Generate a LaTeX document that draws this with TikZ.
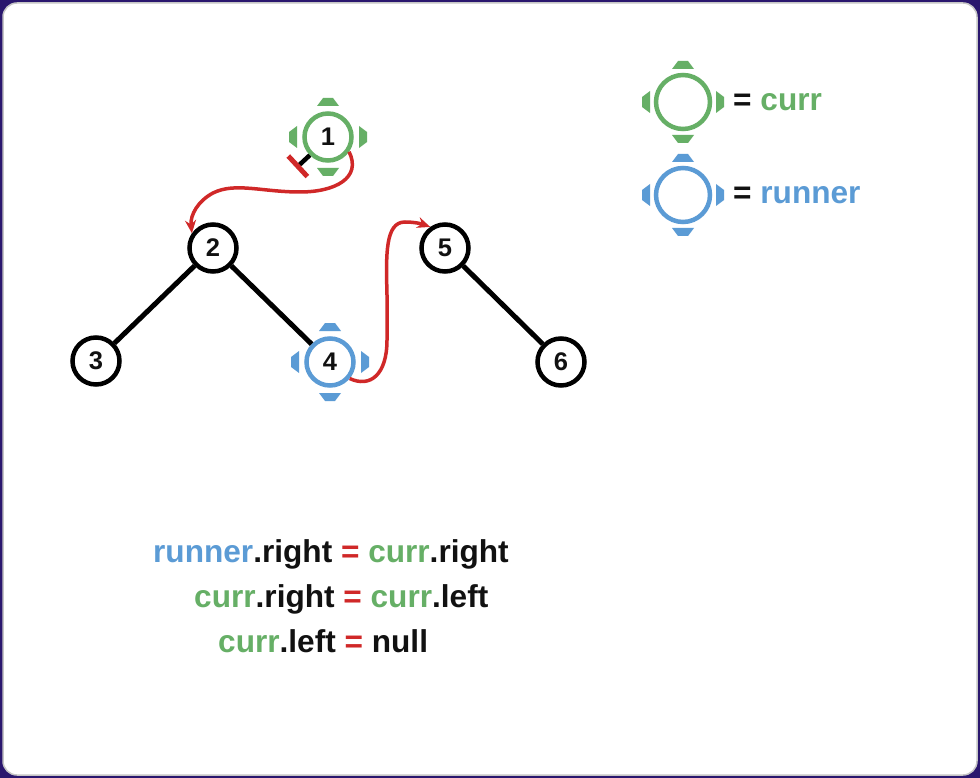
\documentclass[tikz,border=0pt]{standalone}
\usepackage{fontspec}
\setmainfont{Liberation Sans}
\usetikzlibrary{positioning,arrows.meta}
\definecolor{FrameViolet}{HTML}{2A176E}
\definecolor{CurrGreen}{HTML}{66AF66}
\definecolor{RunnerBlue}{HTML}{5B9BD5}
\definecolor{LinkRed}{HTML}{D02828}
\definecolor{InkBlack}{HTML}{111111}
\tikzset{
  treenode/.style={circle, draw=black, line width=4.5pt, fill=white, minimum size=47pt,
                   inner sep=0pt, text=InkBlack, font=\fontsize{25.5}{30}\selectfont\bfseries},
  currnode/.style={treenode, draw=CurrGreen},
  runnernode/.style={treenode, draw=RunnerBlue},
  keynode/.style={circle, line width=4.5pt, minimum size=54pt, inner sep=0pt},
  branch/.style={line width=5pt, black},
  relink/.style={-{Stealth[length=13pt,width=11pt]}, line width=3.5pt, LinkRed},
  codeline/.style={anchor=base west, inner sep=0pt, text=InkBlack,
                   font=\fontsize{31.6}{36}\selectfont\bfseries},
  pics/pointer/.style 2 args={code={
    \foreach \a in {0,90,180,270}
      \fill[#2, rotate=\a] (#1,-11) -- (#1+8,-5) -- (#1+8,5) -- (#1,11) -- cycle;
  }},
}

\begin{document}
\begin{tikzpicture}[x=1pt, y=-1pt, on grid]
  % frame
  \fill[FrameViolet] (0,0) rectangle (980,778);
  \fill[white, draw=gray!45, line width=1.5pt, rounded corners=14pt] (3,3) rectangle (977,775);

  % tree
  \node[currnode] (n1) at (328,137) {1};
  \node[treenode] (n2) at (213,248) {2};
  \node[treenode, below left=113pt and 117pt of n2] (n3) {3};
  \node[runnernode, below right=114pt and 117pt of n2] (n4) {4};
  \node[treenode, right=232pt of n2] (n5) {5};
  \node[treenode, below right=114pt and 116pt of n5] (n6) {6};
  \draw[branch] (n2) -- (n3);
  \draw[branch] (n2) -- (n4);
  \draw[branch] (n5) -- (n6);
  \pic at (n1) {pointer={31}{CurrGreen}};
  \pic at (n4) {pointer={31}{RunnerBlue}};

  % cut left link of 1
  \coordinate (cut) at (296,168);
  \draw[line width=4.5pt, black, -{Bar[width=28pt, line width=5pt, color=LinkRed]}] (n1.225) -- (cut);

  % relinks
  \draw[relink] (n1.-35) .. controls (362,178) and (335,192) .. (300,192)
                .. controls (262,192) and (235,182) .. (213,193)
                .. controls (198,201) and (190,215) .. (n2.145);
  \draw[relink] (n4.-40) .. controls (370,388) and (387,375) .. (387,340) -- (387,295)
                .. controls (386,255) and (385,222) .. (405,222)
                .. controls (415,222) and (422,224) .. (n5.125);

  % legend
  \node[keynode, draw=CurrGreen] (keycurr) at (683,102) {};
  \pic at (keycurr) {pointer={33}{CurrGreen}};
  \node[codeline] (keycurrtext) at (733,111) {= \textcolor{CurrGreen}{curr}};
  \node[keynode, draw=RunnerBlue] (keyrunner) at (683,195) {};
  \pic at (keyrunner) {pointer={33}{RunnerBlue}};
  \node[codeline] (keyrunnertext) at (733,204) {= \textcolor{RunnerBlue}{runner}};

  % steps
  \node[codeline] (step1) at (153,562) {\textcolor{RunnerBlue}{runner}.right \textcolor{LinkRed}{=} \textcolor{CurrGreen}{curr}.right};
  \node[codeline] (step2) at (194,607) {\textcolor{CurrGreen}{curr}.right \textcolor{LinkRed}{=} \textcolor{CurrGreen}{curr}.left};
  \node[codeline] (step3) at (218,652) {\textcolor{CurrGreen}{curr}.left \textcolor{LinkRed}{=} null};
\end{tikzpicture}
\end{document}
